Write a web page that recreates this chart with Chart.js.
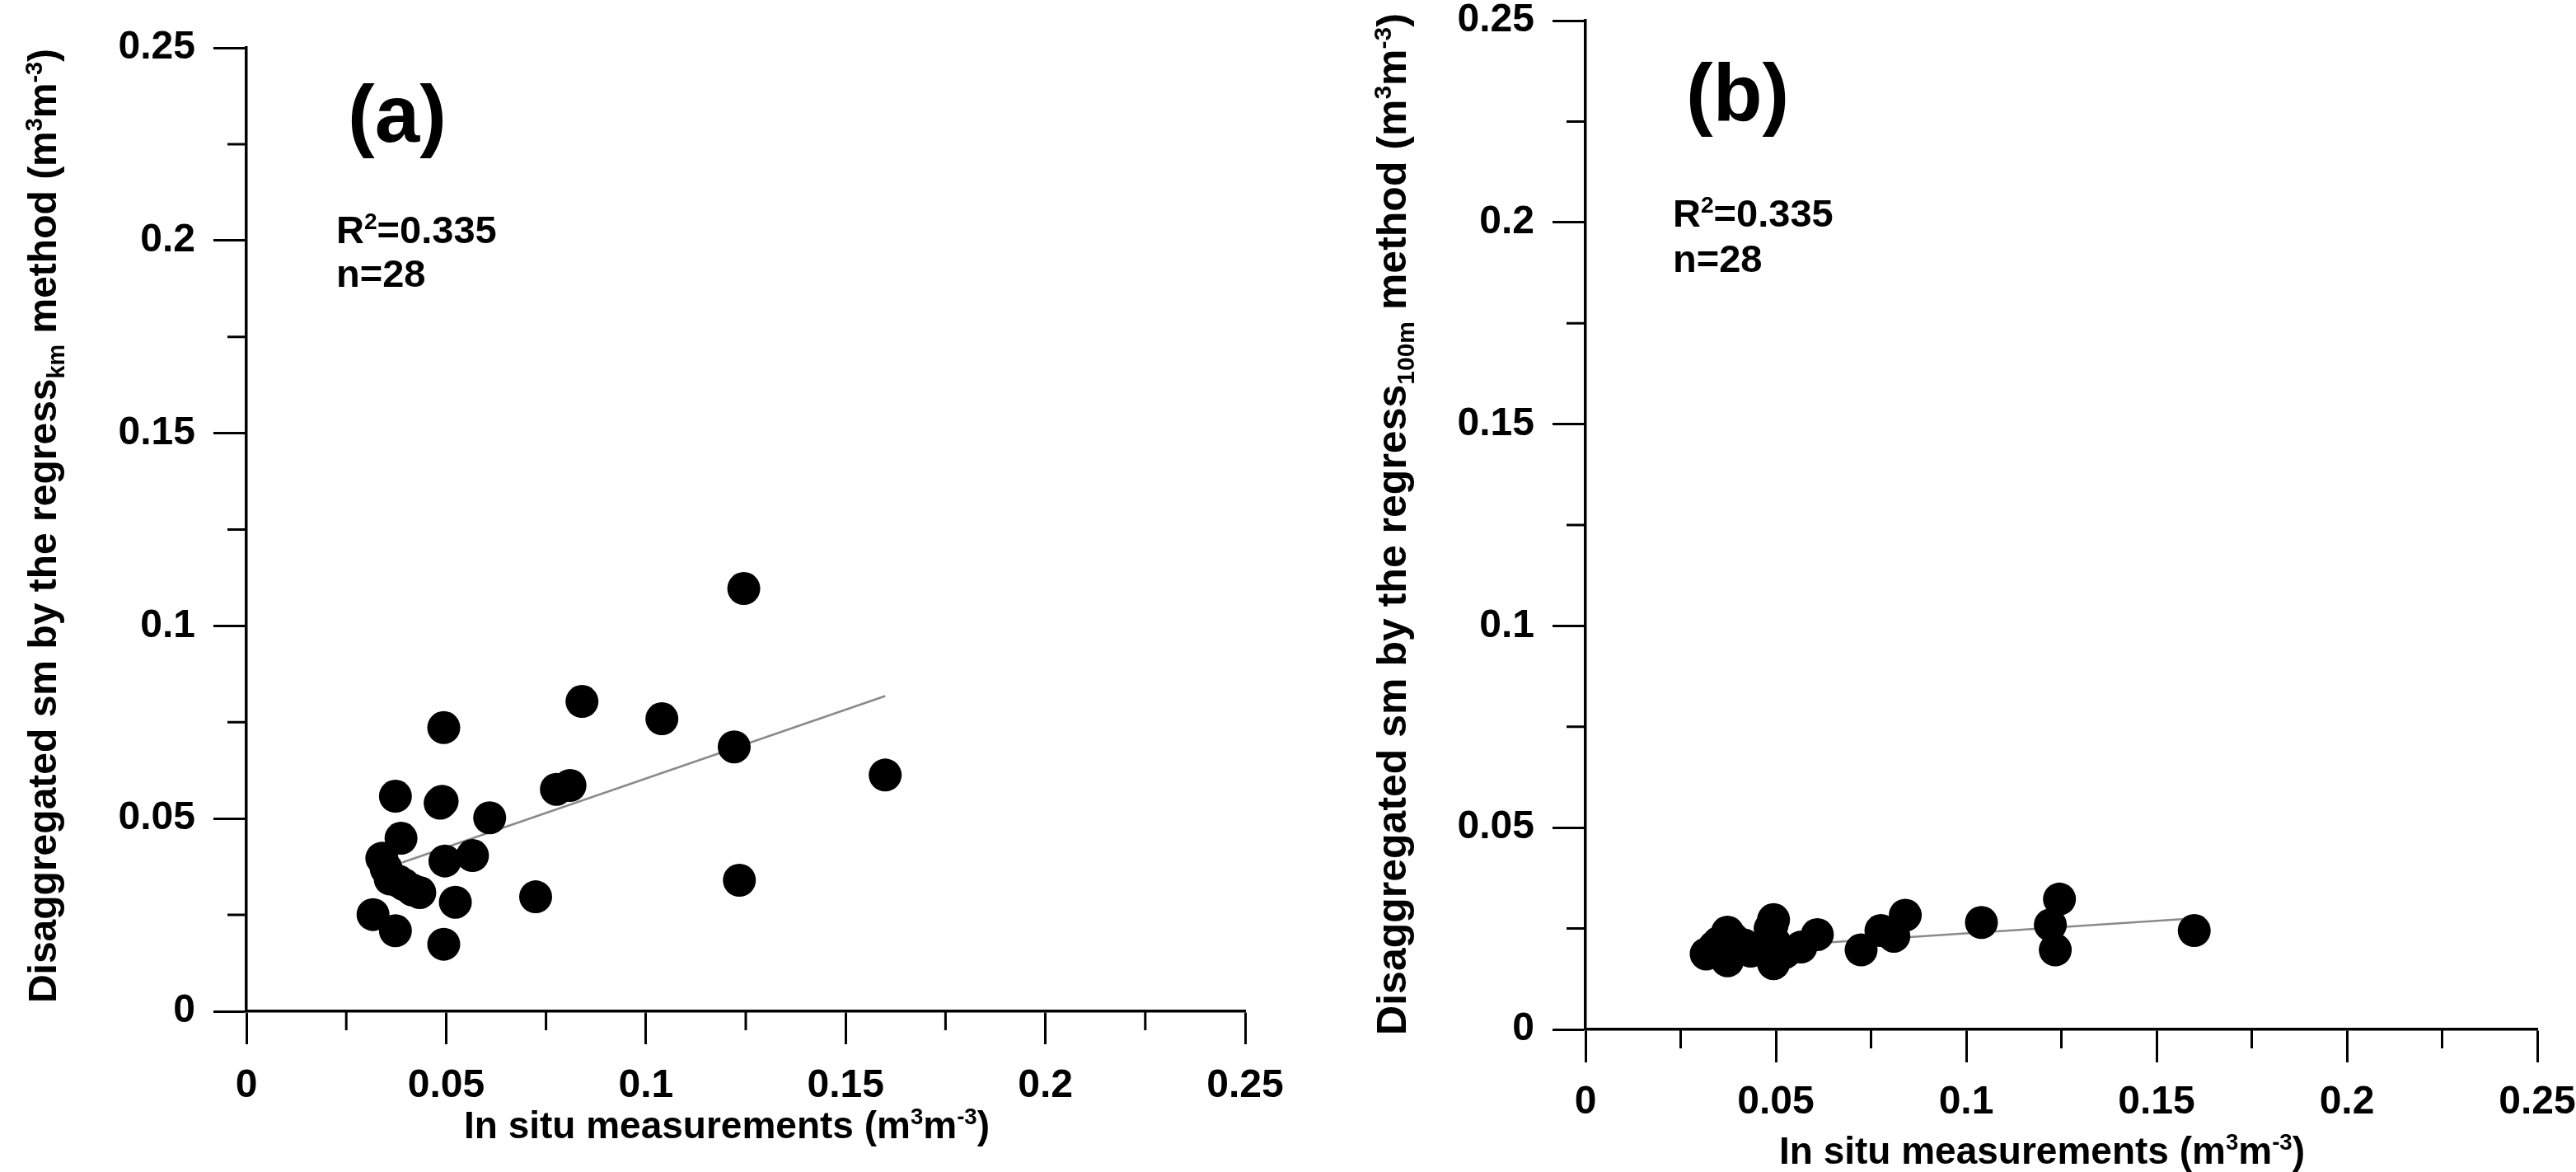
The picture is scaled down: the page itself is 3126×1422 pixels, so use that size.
<!DOCTYPE html>
<html>
<head>
<meta charset="utf-8">
<script src="https://cdn.jsdelivr.net/npm/chart.js@4/dist/chart.umd.min.js"></script>
<style>
  html, body { margin: 0; padding: 0; background: #fff; }
  #wrap { position: relative; width: 3126px; height: 1422px; }
  canvas { position: absolute; left: 0; top: 0; }
</style>
</head>
<body>
<div id="wrap">
  <canvas id="chartA" width="3126" height="1422"></canvas>
  <canvas id="chartB" width="3126" height="1422"></canvas>
</div>
<script>
// in situ values (shared by both panels)
const inSitu = [0.0494, 0.0373, 0.0485, 0.0609, 0.0776, 0.0810, 0.0387, 0.0339, 0.0497, 0.0566,
                0.0360, 0.0394, 0.0434, 0.0724, 0.0523, 0.0317, 0.0373, 0.0494, 0.1245, 0.0840,
                0.1040, 0.1221, 0.1599, 0.1234, 0.0350, 0.0380, 0.0415, 0.0490];
// disaggregated sm, regress_km method
const regressKm = [0.0736, 0.0558, 0.0540, 0.0502, 0.0576, 0.0586, 0.0449, 0.0397, 0.0390, 0.0404,
                   0.0343, 0.0329, 0.0308, 0.0297, 0.0283, 0.0251, 0.0209, 0.0174, 0.1097, 0.0804,
                   0.0759, 0.0686, 0.0613, 0.0340, 0.0370, 0.0338, 0.0315, 0.0545];
// disaggregated sm, regress_100m method
const regress100m = [0.0272, 0.0241, 0.0250, 0.0235, 0.0245, 0.0231, 0.0225, 0.0205, 0.0215, 0.0204,
                     0.0210, 0.0200, 0.0194, 0.0197, 0.0190, 0.0187, 0.0170, 0.0163, 0.0323, 0.0283,
                     0.0265, 0.0259, 0.0245, 0.0197, 0.0215, 0.0195, 0.0210, 0.0258];

// fitted lines (end points)
const fitX = [0.0390, 0.1599];
const fitKmY = [0.0386, 0.0818];
const fit100mY = [0.0200, 0.0275];

const tickLabels = ['0', '0.05', '0.1', '0.15', '0.2', '0.25'];
const minorTicks = [0.025, 0.075, 0.125, 0.175, 0.225];

const FONT = '"Liberation Sans", Arial, sans-serif';

// text with sub/superscripts drawn on the canvas
function drawRich(ctx, parts, x, y, size, align, rotate) {
  const small = size * 0.6;
  const font = s => 'bold ' + s + 'px ' + FONT;
  ctx.save();
  ctx.translate(x, y);
  if (rotate) ctx.rotate(rotate);
  ctx.fillStyle = '#000';
  ctx.textBaseline = 'alphabetic';
  ctx.textAlign = 'left';
  let total = 0;
  parts.forEach(p => {
    ctx.font = font(p.s ? small : size);
    total += ctx.measureText(p.t).width;
  });
  let cx = align === 'center' ? -total / 2 : 0;
  parts.forEach(p => {
    ctx.font = font(p.s ? small : size);
    let dy = 0;
    if (p.s === 'sup') dy = -size * 0.36;
    if (p.s === 'sub') dy = size * 0.2;
    ctx.fillText(p.t, cx, dy);
    cx += ctx.measureText(p.t).width;
  });
  ctx.restore();
}

const richText = {
  id: 'richText',
  afterDraw(chart, args, opts) {
    const ctx = chart.ctx;
    (opts.items || []).forEach(it => {
      drawRich(ctx, it.parts, it.x, it.y, it.size, it.align, it.rotate);
    });
  }
};

const minorTickMarks = {
  id: 'minorTickMarks',
  afterDraw(chart) {
    const ctx = chart.ctx;
    const xs = chart.scales.x, ys = chart.scales.y;
    ctx.save();
    ctx.strokeStyle = '#000';
    ctx.lineWidth = 3;
    ctx.beginPath();
    minorTicks.forEach(v => {
      const px = xs.getPixelForValue(v);
      ctx.moveTo(px, xs.top);
      ctx.lineTo(px, xs.top + 23);
      const py = ys.getPixelForValue(v);
      ctx.moveTo(ys.right, py);
      ctx.lineTo(ys.right - 23, py);
    });
    ctx.stroke();
    ctx.restore();
  }
};

const yTitle = sub => [
  { t: 'Disaggregated sm by the regress' }, { t: sub, s: 'sub' },
  { t: ' method (m' }, { t: '3', s: 'sup' }, { t: 'm' }, { t: '-3', s: 'sup' }, { t: ')' }
];
const xTitle = [
  { t: 'In situ measurements (m' }, { t: '3', s: 'sup' }, { t: 'm' }, { t: '-3', s: 'sup' }, { t: ')' }
];
const r2Text = [{ t: 'R' }, { t: '2', s: 'sup' }, { t: '=0.335' }];
const nText = [{ t: 'n=28' }];

function axis(labelPad) {
  return {
    type: 'linear',
    min: 0,
    max: 0.25,
    ticks: {
      stepSize: 0.05,
      color: '#000',
      padding: labelPad,
      maxRotation: 0,
      autoSkip: false,
      font: { family: FONT, weight: 'bold', size: 48 },
      callback: (v, i) => tickLabels[i]
    },
    grid: {
      drawOnChartArea: false,
      drawTicks: true,
      tickLength: 40,
      tickWidth: 3,
      tickColor: '#000'
    },
    border: { display: true, color: '#000', width: 3.5 }
  };
}

function makeChart(id, yValues, fitY, box, items) {
  const points = inSitu.map((x, i) => ({ x: x, y: yValues[i] }));
  const line = fitX.map((x, i) => ({ x: x, y: fitY[i] }));
  const xAxis = axis(box.xPad);
  xAxis.afterFit = s => { s.height = box.xHeight; s.paddingLeft = 0; s.paddingRight = 0; };
  const yAxis = axis(22);
  yAxis.afterFit = s => { s.width = box.yWidth; s.paddingTop = 0; s.paddingBottom = 0; };

  return new Chart(document.getElementById(id), {
    type: 'scatter',
    data: {
      datasets: [
        {
          data: points,
          backgroundColor: '#000',
          borderWidth: 0,
          pointRadius: 20,
          order: 1
        },
        {
          type: 'line',
          data: line,
          borderColor: '#8a8a8a',
          borderWidth: 2.5,
          pointRadius: 0,
          fill: false,
          order: 2
        }
      ]
    },
    options: {
      responsive: false,
      devicePixelRatio: 1,
      animation: false,
      events: [],
      layout: { padding: box.padding },
      scales: { x: xAxis, y: yAxis },
      plugins: {
        legend: { display: false },
        tooltip: { enabled: false },
        richText: { items: items }
      }
    },
    plugins: [richText, minorTickMarks]
  });
}

// panel (a)
makeChart('chartA', regressKm, fitKmY,
  { padding: { left: 0, top: 58, right: 1615, bottom: 0 }, yWidth: 299, xHeight: 195, xPad: 22 },
  [
    { parts: [{ t: '(a)' }], x: 422, y: 172, size: 98 },
    { parts: r2Text, x: 408, y: 295, size: 47 },
    { parts: nText, x: 408, y: 348, size: 47 },
    { parts: yTitle('km'), x: 68, y: 638, size: 48, align: 'center', rotate: -Math.PI / 2 },
    { parts: xTitle, x: 882, y: 1381, size: 46, align: 'center' }
  ]);

// panel (b)
makeChart('chartB', regress100m, fit100mY,
  { padding: { left: 1560, top: 25, right: 47, bottom: 0 }, yWidth: 364, xHeight: 173, xPad: 20 },
  [
    { parts: [{ t: '(b)' }], x: 2046, y: 146, size: 98 },
    { parts: r2Text, x: 2030, y: 275, size: 47 },
    { parts: nText, x: 2030, y: 330, size: 47 },
    { parts: yTitle('100m'), x: 1706, y: 636, size: 50, align: 'center', rotate: -Math.PI / 2 },
    { parts: xTitle, x: 2478, y: 1412, size: 46, align: 'center' }
  ]);
</script>
</body>
</html>
